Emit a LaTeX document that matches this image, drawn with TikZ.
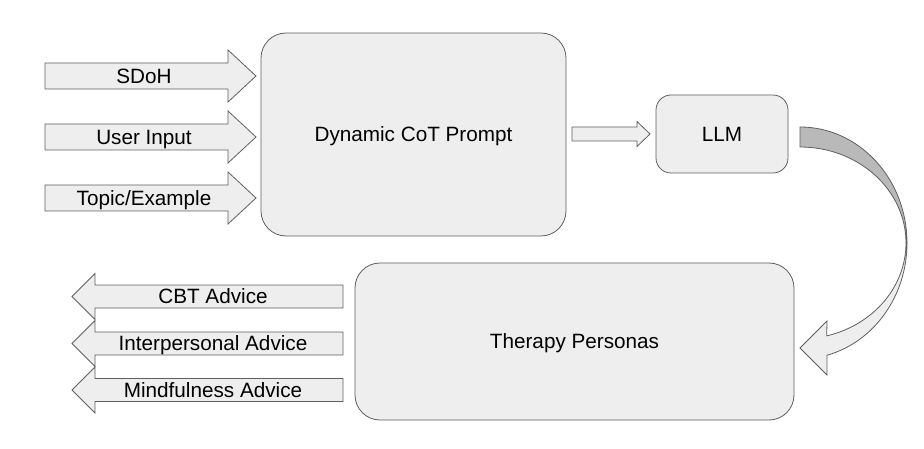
\documentclass[tikz,border=0pt]{standalone}
\usepackage{fontspec}
\setmainfont{Liberation Sans}
\definecolor{edge}{RGB}{95,95,95}
\definecolor{boxfill}{RGB}{238,238,238}
\definecolor{darkband}{RGB}{185,185,185}
\begin{document}
\begin{tikzpicture}[x=1pt,y=-1pt,
  lbl/.style={font=\fontsize{20.7}{24}\selectfont, inner sep=0pt, text=black, text height=14.8pt, text depth=0pt},
  blk/.style={draw=edge, fill=boxfill, line width=0.8pt, rounded corners=#1, lbl},
  barrow/.style={draw=edge, fill=boxfill, line width=0.8pt, line join=miter}]
\useasboundingbox (0,0) rectangle (924,449);
% main boxes
\node[blk=25pt, minimum width=305pt, minimum height=203pt] (prompt) at (413.5,134.5) {Dynamic CoT Prompt};
\node[blk=15pt, minimum width=132pt, minimum height=78pt] (llm) at (722,134) {LLM};
\node[blk=25pt, minimum width=439pt, minimum height=157pt] (persona) at (574.5,341.5) {Therapy Personas};
% input block arrows
\foreach \cy/\t/\n in {76/SDoH/sdoh, 137/User Input/user, 198/Topic\slash Example/topic}{
  \draw[barrow] (45,\cy-13) -- (228,\cy-13) -- (228,\cy-26) -- (256,\cy) -- (228,\cy+26) -- (228,\cy+13) -- (45,\cy+13) -- cycle;
  \node[lbl] (\n) at (144,\cy) {\t};
}
% output block arrows
\foreach \cy/\t/\n in {296.5/CBT Advice/cbt, 343.5/Interpersonal Advice/inter, 390/Mindfulness Advice/mind}{
  \draw[barrow] (343,\cy-11.5) -- (95,\cy-11.5) -- (95,\cy-23) -- (72,\cy) -- (95,\cy+23) -- (95,\cy+11.5) -- (343,\cy+11.5) -- cycle;
  \node[lbl] (\n) at (213,\cy) {\t};
}
% prompt -> llm arrow
\draw[barrow] (572,127) -- (637,127) -- (637,121.5) -- (650,134) -- (637,146.5) -- (637,141) -- (572,141) -- cycle;
% curved arrow llm -> personas
\draw[draw=edge, fill=darkband, line width=0.8pt]
  (800,127) arc[start angle=-90, end angle=0, x radius=107, y radius=116]
  -- (906,243) arc[start angle=0, end angle=-90, x radius=106, y radius=96] -- cycle;
\draw[draw=edge, fill=boxfill, line width=0.8pt, line join=miter]
  (907,243) arc[start angle=0, end angle=75.4, x radius=107, y radius=116]
  -- (827,375) -- (800,348) -- (827,321)
  -- (826.7,335.9) arc[start angle=75.4, end angle=0, x radius=106, y radius=96] -- cycle;
\end{tikzpicture}
\end{document}
